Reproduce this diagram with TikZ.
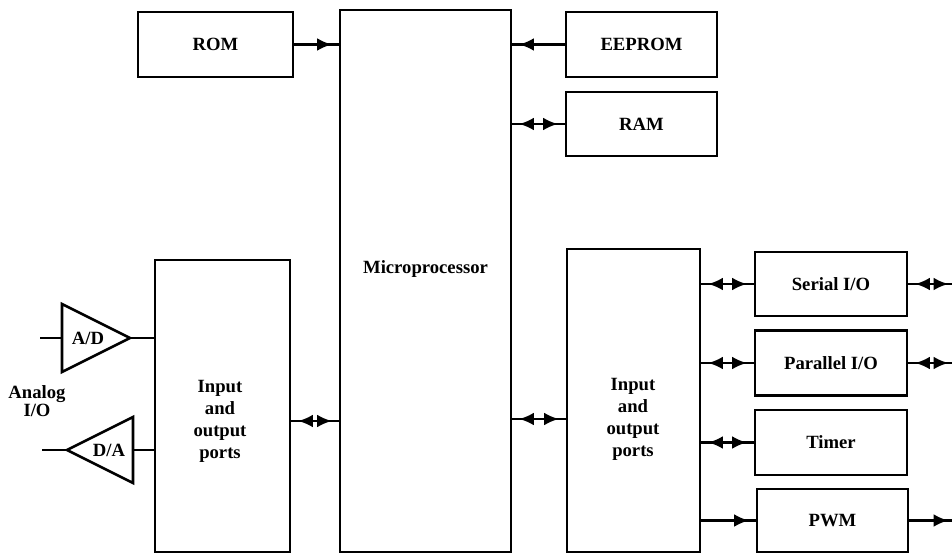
\documentclass[tikz,border=0pt]{standalone}
\usepackage{fontspec}
\setmainfont{Liberation Serif}
\usetikzlibrary{arrows.meta}
\begin{document}
\begin{tikzpicture}[x=0.75pt,y=-0.75pt,
  box/.style={draw, line width=2.2pt, inner sep=0pt},
  lbl/.style={font=\fontsize{14}{16.5}\selectfont\bfseries, align=center, inner sep=0pt},
  wire/.style={line width=1.7pt},
  tri/.style={draw, line width=1.9pt, line join=miter},
  tipend/.style={wire, postaction={draw, line width=1.7pt, shorten >=5pt, -{Latex[length=11pt,width=9.5pt]}}},
  tipboth/.style={wire, postaction={draw, line width=1.7pt, shorten >=5pt, shorten <=5pt, {Latex[length=11pt,width=9.5pt]}-{Latex[length=11pt,width=9.5pt]}}}
]
\useasboundingbox (0,0) rectangle (952,556);

% boxes
\node[box, minimum width=116.25pt, minimum height=48.75pt] (rom) at (215.5,44.5) {};
\node[lbl] (romt) at (rom.center) {ROM};
\node[box, minimum width=128.25pt, minimum height=406.5pt] (micro) at (425.5,281) {};
\node[lbl] (microt) at (425.5,269) {Microprocessor};
\node[box, minimum width=113.25pt, minimum height=48.75pt] (eeprom) at (641.5,44.5) {};
\node[lbl] (eepromt) at (eeprom.center) {EEPROM};
\node[box, minimum width=113.25pt, minimum height=48pt] (ram) at (641.5,124) {};
\node[lbl] (ramt) at (ram.center) {RAM};
\node[box, minimum width=101.25pt, minimum height=219pt] (lio) at (222.5,406) {};
\node[lbl] (liot) at (220,421) {Input\\and\\output\\ports};
\node[box, minimum width=99.75pt, minimum height=227.25pt] (rio) at (633.5,400.5) {};
\node[lbl] (riot) at (633,419) {Input\\and\\output\\ports};
\node[box, minimum width=114pt, minimum height=48pt] (serial) at (831,284) {};
\node[lbl] (serialt) at (serial.center) {Serial I/O};
\node[box, minimum width=114pt, minimum height=48.75pt] (par) at (831,363) {};
\node[lbl] (part) at (par.center) {Parallel I/O};
\node[box, minimum width=114pt, minimum height=48.75pt] (timer) at (831,442.5) {};
\node[lbl] (timert) at (timer.center) {Timer};
\node[box, minimum width=113.25pt, minimum height=47.25pt] (pwm) at (832.5,520.5) {};
\node[lbl] (pwmt) at (pwm.center) {PWM};

% converters
\coordinate (adbase) at (62,338);
\coordinate (adtip) at (130,338);
\coordinate (adin) at (40,338);
\draw[tri] (62,304) -- (adtip) -- (62,372) -- cycle;
\node[lbl] (adt) at (88,338) {A/D};
\coordinate (dabase) at (133,450);
\coordinate (datip) at (67,450);
\coordinate (daout) at (42,450);
\draw[tri] (133,417) -- (datip) -- (133,483) -- cycle;
\node[lbl] (dat) at (109,450) {D/A};
\node[lbl, font=\fontsize{14}{13.5}\selectfont\bfseries] (analog) at (37,401) {Analog\\I/O};

\draw[wire] (adin) -- (adbase);
\draw[wire] (adtip) -- (adtip -| lio.west);
\draw[wire] (daout) -- (datip);
\draw[wire] (dabase) -- (dabase -| lio.west);

% connectors
\draw[tipend] (rom.east) -- (rom.east -| micro.west);
\draw[tipend] (eeprom.west) -- (eeprom.west -| micro.east);
\draw[tipboth] (micro.east |- ram.west) -- (ram.west);
\draw[tipboth] (lio.east |- liot.center) -- (micro.west |- liot.center);
\draw[tipboth] (micro.east |- riot.center) -- (rio.west |- riot.center);
\draw[tipboth] (rio.east |- serial.west) -- (serial.west);
\draw[tipboth] (rio.east |- par.west) -- (par.west);
\draw[tipboth] (rio.east |- timer.west) -- (timer.west);
\draw[tipend] (rio.east |- pwm.west) -- (pwm.west);
\coordinate (serout) at (955,284);
\coordinate (parout) at (955,363);
\coordinate (pwmout) at (955,520.5);
\draw[tipboth] (serial.east) -- (serout);
\draw[tipboth] (par.east) -- (parout);
\draw[tipend] (pwm.east) -- (pwmout);
\end{tikzpicture}
\end{document}
